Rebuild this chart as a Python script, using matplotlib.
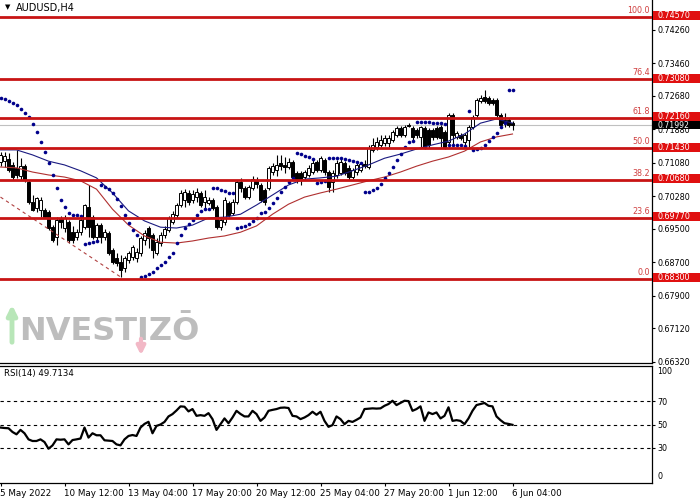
import numpy as np
import matplotlib
matplotlib.use("Agg")
import matplotlib.pyplot as plt
from matplotlib.patches import Rectangle
from matplotlib.transforms import blended_transform_factory

symbol = "AUDUSD,H4"

opens = np.array([
    0.7110, 0.7112, 0.7117, 0.7103, 0.7096, 0.7076, 0.7100, 0.7062, 0.7014, 0.7000,
    0.6995, 0.6995, 0.6990, 0.6954, 0.6930, 0.6976, 0.6952, 0.6966, 0.6942, 0.6930,
    0.6942, 0.6954, 0.7002, 0.6978, 0.6930, 0.6959, 0.6930, 0.6940, 0.6899, 0.6880,
    0.6871, 0.6856, 0.6875, 0.6883, 0.6880, 0.6892, 0.6923, 0.6952, 0.6935, 0.6892,
    0.6916, 0.6935, 0.6947, 0.6966, 0.6983, 0.7007, 0.7019, 0.7036, 0.7019, 0.7026,
    0.7036, 0.7014, 0.7012, 0.7019, 0.7002, 0.6954, 0.6966, 0.7012, 0.6988, 0.7014,
    0.7062, 0.7048, 0.7026, 0.7048, 0.7067, 0.7055, 0.7043, 0.7048, 0.7086, 0.7091,
    0.7108, 0.7103, 0.7098, 0.7110, 0.7084, 0.7084, 0.7074, 0.7079, 0.7086, 0.7110,
    0.7091, 0.7115, 0.7086, 0.7062, 0.7079, 0.7084, 0.7108, 0.7096, 0.7074, 0.7086,
    0.7091, 0.7105, 0.7098, 0.7139, 0.7146, 0.7151, 0.7156, 0.7156, 0.7163, 0.7175,
    0.7191, 0.7175, 0.7198, 0.7191, 0.7187, 0.7170, 0.7191, 0.7187, 0.7187, 0.7191,
    0.7194, 0.7182, 0.7158, 0.7222, 0.7170, 0.7175, 0.7158, 0.7163, 0.7194, 0.7222,
    0.7256, 0.7266, 0.7263, 0.7258, 0.7258, 0.7222, 0.7210, 0.7210, 0.7203])

highs = np.array([
    0.7134, 0.7134, 0.7131, 0.7110, 0.7139, 0.7119, 0.7105, 0.7067, 0.7031, 0.7026,
    0.7026, 0.7000, 0.6995, 0.6959, 0.6978, 0.6981, 0.6983, 0.6971, 0.6957, 0.6949,
    0.6976, 0.7009, 0.7055, 0.6983, 0.6964, 0.6964, 0.6949, 0.6945, 0.6904, 0.6892,
    0.6887, 0.6885, 0.6897, 0.6911, 0.6904, 0.6933, 0.6947, 0.6957, 0.6940, 0.6928,
    0.6942, 0.6957, 0.6981, 0.6993, 0.7012, 0.7043, 0.7045, 0.7043, 0.7043, 0.7048,
    0.7041, 0.7043, 0.7026, 0.7024, 0.7007, 0.6978, 0.7026, 0.7017, 0.7021, 0.7067,
    0.7072, 0.7053, 0.7055, 0.7076, 0.7074, 0.7060, 0.7048, 0.7100, 0.7108, 0.7127,
    0.7127, 0.7122, 0.7119, 0.7115, 0.7089, 0.7089, 0.7091, 0.7103, 0.7115, 0.7115,
    0.7124, 0.7119, 0.7091, 0.7091, 0.7115, 0.7117, 0.7112, 0.7103, 0.7096, 0.7108,
    0.7110, 0.7115, 0.7151, 0.7168, 0.7170, 0.7175, 0.7175, 0.7175, 0.7187, 0.7196,
    0.7196, 0.7198, 0.7203, 0.7196, 0.7191, 0.7196, 0.7196, 0.7191, 0.7191, 0.7196,
    0.7198, 0.7187, 0.7227, 0.7227, 0.7184, 0.7179, 0.7179, 0.7198, 0.7222, 0.7263,
    0.7270, 0.7282, 0.7268, 0.7263, 0.7263, 0.7227, 0.7227, 0.7215, 0.7208])

lows = np.array([
    0.7100, 0.7098, 0.7086, 0.7067, 0.7072, 0.7067, 0.7062, 0.7009, 0.6993, 0.6990,
    0.6978, 0.6976, 0.6947, 0.6918, 0.6911, 0.6952, 0.6942, 0.6916, 0.6916, 0.6923,
    0.6935, 0.6949, 0.6930, 0.6926, 0.6923, 0.6916, 0.6923, 0.6887, 0.6866, 0.6861,
    0.6835, 0.6847, 0.6868, 0.6875, 0.6871, 0.6885, 0.6911, 0.6904, 0.6880, 0.6887,
    0.6909, 0.6928, 0.6942, 0.6961, 0.6976, 0.7002, 0.7002, 0.7007, 0.7012, 0.7014,
    0.7002, 0.7000, 0.7007, 0.6995, 0.6949, 0.6947, 0.6959, 0.6978, 0.6983, 0.7009,
    0.7038, 0.7021, 0.7021, 0.7043, 0.7048, 0.7014, 0.7007, 0.7043, 0.7079, 0.7076,
    0.7091, 0.7084, 0.7093, 0.7069, 0.7060, 0.7055, 0.7067, 0.7074, 0.7081, 0.7086,
    0.7086, 0.7079, 0.7038, 0.7038, 0.7072, 0.7079, 0.7079, 0.7067, 0.7069, 0.7079,
    0.7086, 0.7096, 0.7093, 0.7134, 0.7139, 0.7146, 0.7149, 0.7146, 0.7158, 0.7170,
    0.7170, 0.7170, 0.7194, 0.7163, 0.7168, 0.7146, 0.7141, 0.7144, 0.7163, 0.7165,
    0.7146, 0.7141, 0.7144, 0.7151, 0.7165, 0.7163, 0.7151, 0.7146, 0.7189, 0.7218,
    0.7251, 0.7251, 0.7246, 0.7246, 0.7218, 0.7194, 0.7194, 0.7194, 0.7187])

closes = np.array([
    0.7127, 0.7124, 0.7091, 0.7074, 0.7079, 0.7100, 0.7067, 0.7014, 0.6995, 0.7024,
    0.7019, 0.6978, 0.6952, 0.6923, 0.6971, 0.6966, 0.6976, 0.6923, 0.6923, 0.6942,
    0.6971, 0.7007, 0.6954, 0.6930, 0.6959, 0.6930, 0.6942, 0.6892, 0.6871, 0.6868,
    0.6852, 0.6880, 0.6892, 0.6907, 0.6895, 0.6928, 0.6940, 0.6928, 0.6899, 0.6918,
    0.6935, 0.6949, 0.6976, 0.6985, 0.7007, 0.7036, 0.7038, 0.7014, 0.7033, 0.7038,
    0.7007, 0.7026, 0.7019, 0.7000, 0.6954, 0.6971, 0.7019, 0.6983, 0.7014, 0.7062,
    0.7048, 0.7026, 0.7050, 0.7069, 0.7057, 0.7019, 0.7014, 0.7096, 0.7100, 0.7103,
    0.7100, 0.7098, 0.7110, 0.7074, 0.7067, 0.7067, 0.7086, 0.7096, 0.7108, 0.7091,
    0.7119, 0.7086, 0.7050, 0.7084, 0.7108, 0.7110, 0.7084, 0.7074, 0.7091, 0.7103,
    0.7105, 0.7100, 0.7144, 0.7151, 0.7158, 0.7163, 0.7168, 0.7168, 0.7182, 0.7191,
    0.7175, 0.7194, 0.7196, 0.7170, 0.7175, 0.7194, 0.7146, 0.7151, 0.7170, 0.7170,
    0.7168, 0.7146, 0.7222, 0.7175, 0.7179, 0.7168, 0.7175, 0.7194, 0.7218, 0.7258,
    0.7263, 0.7256, 0.7251, 0.7251, 0.7222, 0.7198, 0.7203, 0.7198, 0.71992])

sar = np.array([
    0.7263, 0.7261, 0.7256, 0.7251, 0.7246, 0.7237, 0.7227, 0.7218, 0.7201, 0.7182,
    0.7158, 0.7134, 0.7108, 0.7079, 0.7048, 0.7019, 0.7002, 0.6988, 0.6983, 0.6983,
    0.6981, 0.6914, 0.6916, 0.6918, 0.6921, 0.7055, 0.7050, 0.7045, 0.7036, 0.7021,
    0.7004, 0.6983, 0.6964, 0.6947, 0.6935, 0.6835, 0.6837, 0.6842, 0.6847, 0.6856,
    0.6864, 0.6871, 0.6883, 0.6892, 0.6916, 0.6935, 0.6952, 0.6961, 0.6971, 0.6983,
    0.6993, 0.6997, 0.6997, 0.7048, 0.7048, 0.7043, 0.7041, 0.7036, 0.7036, 0.6952,
    0.6954, 0.6957, 0.6961, 0.6969, 0.6976, 0.6988, 0.6990, 0.7000, 0.7012, 0.7024,
    0.7038, 0.7050, 0.7062, 0.7072, 0.7131, 0.7129, 0.7124, 0.7122, 0.7117, 0.7060,
    0.7062, 0.7065, 0.7119, 0.7119, 0.7119, 0.7119, 0.7117, 0.7115, 0.7112, 0.7110,
    0.7108, 0.7038, 0.7038, 0.7043, 0.7048, 0.7057, 0.7072, 0.7084, 0.7098, 0.7115,
    0.7129, 0.7146, 0.7158, 0.7160, 0.7206, 0.7206, 0.7206, 0.7206, 0.7203, 0.7203,
    0.7203, 0.7201, 0.7151, 0.7151, 0.7151, 0.7151, 0.7149, 0.7232, 0.7139, 0.7141,
    0.7144, 0.7151, 0.7160, 0.7170, 0.7180, 0.7194, 0.7203, 0.7282, 0.7282])

# moving averages, read every 4th bar
ma_fast = [0.7139, 0.7139, 0.7127, 0.7112, 0.7103, 0.7089, 0.7072, 0.7036, 0.6993,
           0.6969, 0.6954, 0.6952, 0.6959, 0.6976, 0.6978, 0.6985, 0.7007, 0.7031,
           0.7055, 0.7069, 0.7072, 0.7076, 0.7089, 0.7103, 0.7119, 0.7129, 0.7141,
           0.7151, 0.7160, 0.7177, 0.7203, 0.7213, 0.7203]
ma_slow = [0.7098, 0.7096, 0.7086, 0.7079, 0.7074, 0.7065, 0.7045, 0.6997, 0.6959,
           0.6933, 0.6918, 0.6916, 0.6921, 0.6928, 0.6933, 0.6942, 0.6957, 0.6985,
           0.7009, 0.7026, 0.7036, 0.7045, 0.7055, 0.7065, 0.7074, 0.7086, 0.7100,
           0.7112, 0.7122, 0.7136, 0.7158, 0.7170, 0.7177]

trend_bars = [0, 30]
trend_prices = [0.7026, 0.6835]

rsi = [47.4, 47.0, 46.8, 43.6, 41.6, 45.4, 42.5, 37.3, 35.9, 35.9,
       37.3, 35.0, 29.3, 32.1, 37.3, 37.0, 37.3, 33.0, 36.7, 37.3,
       38.0, 47.4, 38.8, 42.5, 40.8, 40.8, 36.5, 36.2, 35.9, 33.0,
       32.2, 37.3, 40.2, 41.0, 40.2, 47.4, 50.5, 52.3, 42.5, 48.8,
       50.0, 52.2, 56.9, 58.9, 62.0, 65.5, 65.2, 61.2, 63.2, 57.4,
       58.0, 57.4, 59.7, 54.6, 45.4, 50.3, 55.2, 51.1, 56.0, 61.7,
       59.0, 56.9, 56.9, 61.7, 58.9, 53.1, 56.0, 61.7, 62.5, 63.2,
       64.3, 64.5, 64.1, 57.4, 56.9, 54.6, 56.0, 58.0, 60.9, 58.3,
       60.9, 53.1, 48.0, 49.5, 56.9, 54.6, 50.3, 53.1, 52.2, 54.0,
       56.0, 63.2, 63.5, 63.8, 63.6, 63.8, 66.0, 67.5, 70.3, 66.6,
       68.5, 70.3, 70.0, 61.7, 63.2, 65.5, 53.1, 60.3, 58.9, 60.3,
       55.2, 57.4, 64.7, 53.1, 53.7, 53.1, 50.3, 55.2, 61.7, 66.6,
       67.5, 68.4, 66.0, 65.5, 56.9, 53.7, 51.1, 50.5, 49.7134]

fib_levels = [0.74570, 0.73080, 0.72160, 0.71430, 0.70680, 0.69770, 0.68300]
fib_names = ["100.0", "76.4", "61.8", "50.0", "38.2", "23.6", "0.0"]
last_price = 0.71992

price_ticks = [0.74260, 0.73460, 0.72680, 0.71880, 0.71080, 0.70280,
               0.69500, 0.68700, 0.67900, 0.67120, 0.66320]
date_bars = [0, 16, 32, 48, 64, 80, 96, 112, 128]
date_labels = ["5 May 2022", "10 May 12:00", "13 May 04:00", "17 May 20:00",
               "20 May 12:00", "25 May 04:00", "27 May 20:00", "1 Jun 12:00",
               "6 Jun 04:00"]

FIB_RED = "#c81414"
NAVY = "#00008b"
px_price = 1 / 4178.6   # price per pixel on the main panel

fig = plt.figure(figsize=(7, 5), dpi=100)
fig.patch.set_facecolor("white")
ax = fig.add_axes([0, 137 / 500, 652 / 700, 363 / 500])
ax2 = fig.add_axes([0, 17 / 500, 652 / 700, 117 / 500])
over = fig.add_axes([0, 0, 1, 1], zorder=5)
over.set_xlim(0, 700)
over.set_ylim(500, 0)
over.axis("off")

bars = np.arange(len(closes))
xlim = (-0.125, 162.875)

# main panel
ax.axhline(last_price, color="#c0c0c0", lw=0.8, zorder=1)
ax.vlines(bars, lows, highs, color="black", lw=0.8, zorder=2)
up = closes >= opens
ax.bar(bars, np.abs(closes - opens), bottom=np.minimum(opens, closes), width=0.72,
       color=np.where(up, "white", "black"), edgecolor="black", lw=0.7, zorder=3)
ma_bars = np.arange(0, len(closes), 4)
ax.plot(ma_bars, ma_fast, color="#1a1a80", lw=0.8, zorder=3.5)
ax.plot(ma_bars, ma_slow, color="#b03030", lw=0.8, zorder=3.5)
ax.plot(trend_bars, trend_prices, color="#b04040", lw=0.8, ls=(0, (3, 3)), zorder=3.5)
ax.plot(bars, sar, "o", color=NAVY, ms=2.6, mew=0, zorder=4)

blend = blended_transform_factory(ax.transAxes, ax.transData)
for lvl, name in zip(fib_levels, fib_names):
    ax.axhline(lvl, color=FIB_RED, lw=2, zorder=5)
    ax.text(650 / 652, lvl + 1.8 * px_price, name, transform=blend, ha="right",
            va="bottom", color="#d04040", fontsize=5.8, zorder=5)
    ax.add_patch(Rectangle((653 / 652, lvl - 3.5 * px_price), 48 / 652, 9 * px_price,
                           transform=blend, facecolor="#e01010", edgecolor="none",
                           clip_on=False, zorder=6))
    ax.text(657 / 652, lvl + 1 * px_price, "%.5f" % lvl, transform=blend, ha="left",
            va="center", color="white", fontsize=5.8, zorder=7, clip_on=False)
ax.add_patch(Rectangle((653 / 652, last_price - 4.5 * px_price), 48 / 652, 8 * px_price,
                       transform=blend, facecolor="black", edgecolor="none",
                       clip_on=False, zorder=6))
ax.text(657 / 652, last_price - 0.5 * px_price, "%.5f" % last_price, transform=blend,
        ha="left", va="center", color="white", fontsize=5.6, zorder=7, clip_on=False)

ax.set_xlim(*xlim)
ax.set_ylim(0.7457 - 346 * px_price, 0.7457 + 17 * px_price)
ax.yaxis.tick_right()
ax.set_yticks(price_ticks)
ax.set_yticklabels(["%.5f" % p for p in price_ticks])
ax.tick_params(axis="y", direction="out", length=2.2, width=0.8, pad=1.5, labelsize=5.8)
ax.set_xticks([])
for s in ["top", "left"]:
    ax.spines[s].set_visible(False)
for s in ["bottom", "right"]:
    ax.spines[s].set_linewidth(0.9)

# RSI panel
for v in [70, 50, 30]:
    ax2.axhline(v, color="black", lw=0.8, ls=(0, (3, 3)))
ax2.plot(bars, rsi, color="black", lw=1.6)
ax2.set_xlim(*xlim)
ax2.set_ylim(0, 100)
ax2.yaxis.tick_right()
ax2.set_yticks([70, 50, 30])
ax2.set_yticklabels(["70", "50", "30"])
ax2.tick_params(axis="y", direction="out", length=2.2, width=0.8, pad=1.5, labelsize=5.8)
blend2 = blended_transform_factory(ax2.transAxes, ax2.transData)
ax2.text(657 / 652, 95.3, "100", transform=blend2, va="center", fontsize=5.8)
ax2.text(657 / 652, 5.7, "0", transform=blend2, va="center", fontsize=5.8)
ax2.text(4 / 652, 94, "RSI(14) %.4f" % rsi[-1], transform=blend2, va="center", fontsize=6.2)
ax2.set_xticks(date_bars)
ax2.set_xticklabels(date_labels, ha="left", fontsize=6.3)
ax2.tick_params(axis="x", direction="out", length=2.5, width=0.8, pad=1.5)
ax2.spines["left"].set_visible(False)
for s in ["top", "bottom", "right"]:
    ax2.spines[s].set_linewidth(0.9)

# title and watermark
over.text(5, 7.5, "\u25bc", fontsize=5, va="center")
over.text(16, 7.5, symbol, fontsize=7, va="center")
over.text(19, 332, "NVESTIZ\u014c", fontsize=23, fontweight="bold", color="#bdbdbd",
          va="center", ha="left")
over.annotate("", xy=(12, 302), xytext=(12, 345),
              arrowprops=dict(arrowstyle="-|>", lw=3.5, color="#b8e6b8", mutation_scale=14))
over.annotate("", xy=(141, 358), xytext=(141, 336),
              arrowprops=dict(arrowstyle="-|>", lw=3.0, color="#f2b8c6", mutation_scale=12))

fig.savefig("out.png", dpi=100, facecolor="white")
